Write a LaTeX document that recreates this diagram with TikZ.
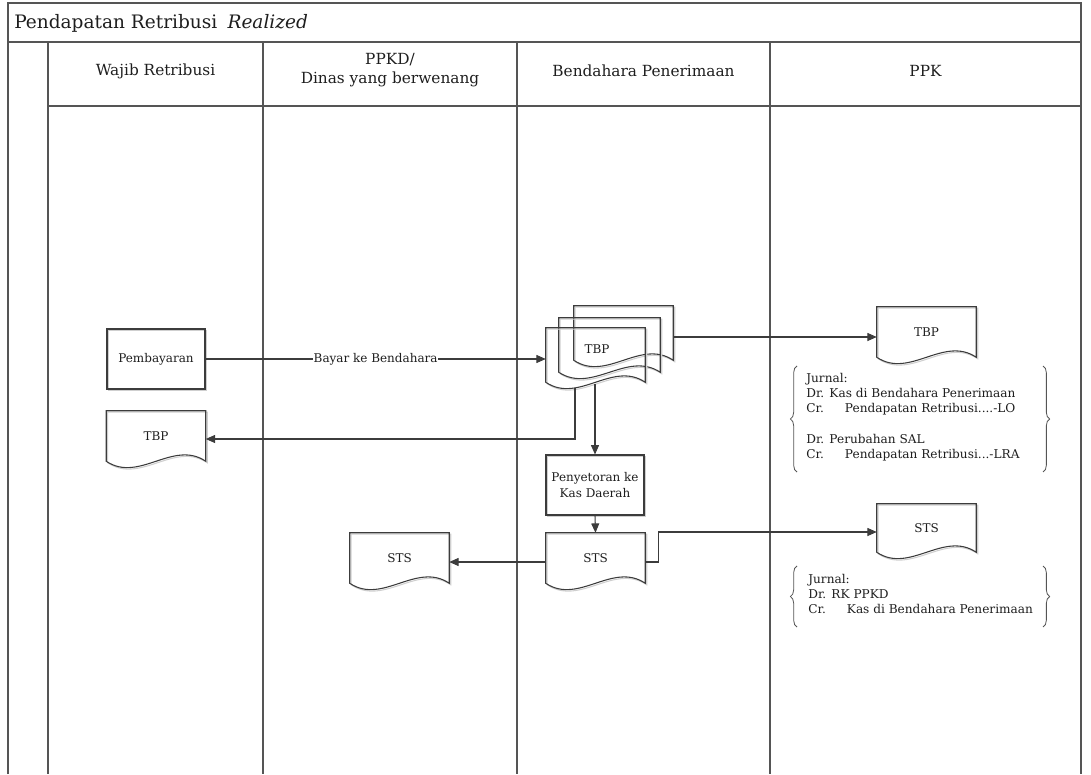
\documentclass[tikz,border=0pt]{standalone}
\usepackage{fontspec}
\setmainfont{DejaVu Serif}
\usetikzlibrary{arrows.meta,calc,decorations.pathreplacing}
\definecolor{ln}{HTML}{3C3C3C}
\definecolor{fr}{HTML}{555555}
\definecolor{sh}{HTML}{CFCFCF}
\definecolor{tx}{HTML}{1E1E1E}
\newcommand\docshape[1]{%
  \draw[docline] (#1.north west) -- (#1.north east) -- (#1.south east)
    .. controls ($(#1.south east)!0.33!(#1.south west)+(0,-22)$) and ($(#1.south east)!0.67!(#1.south west)+(0,22)$) .. (#1.south west) -- cycle;}
\tikzset{
  shd/.style={preaction={draw=sh,line width=0.8pt,transform canvas={xshift=1.1pt,yshift=-1.1pt}}},
  docline/.style={draw=ln,line width=0.8pt,shd},
  procbox/.style={draw=ln,line width=0.8pt,shd,rectangle,minimum width=73.5pt,minimum height=45pt,inner sep=1pt,align=center,font=\fontsize{9pt}{11.5pt}\selectfont,text=tx},
  docnode/.style={rectangle,draw=none,minimum width=74.25pt,minimum height=37.5pt,inner sep=0pt,font=\fontsize{9pt}{11pt}\selectfont,text=tx},
  arr/.style={draw=ln,line width=0.8pt,-{Triangle[length=7pt,width=6pt]}},
  frame/.style={draw=fr,line width=1.5pt},
  lane/.style={draw=fr,line width=1.1pt},
  hdr/.style={font=\fontsize{11.5pt}{14pt}\selectfont,text=tx,align=center,inner sep=0pt},
  jtext/.style={anchor=north west,align=left,inner sep=0pt,font=\fontsize{9.1pt}{11.4pt}\selectfont,text=tx},
  brc/.style={draw=fr,line width=0.6pt,decorate,decoration={brace,amplitude=5pt,aspect=0.5}}
}
\begin{document}
\begin{tikzpicture}[x=0.75pt,y=-0.75pt]
\useasboundingbox (0,0) rectangle (1091,774);
% frame and lanes
\draw[frame] (8,774) -- (8,3) -- (1081,3) -- (1081,774);
\draw[frame] (8,42) -- (1081,42);
\draw[lane] (48,106) -- (1081,106);
\draw[lane] (48,42) -- (48,774);
\draw[lane] (263,42) -- (263,774);
\draw[lane] (517,42) -- (517,774);
\draw[lane] (770,42) -- (770,774);
% title and headers
\node[anchor=west,inner sep=0pt,text=tx,font=\fontsize{13.9pt}{16pt}\selectfont] (title) at (14,23) {Pendapatan Retribusi\hspace{0.55em}\textit{Realized}};
\node[hdr] (h1) at (155.5,71) {Wajib Retribusi};
\node[hdr] (h2) at (390,70) {PPKD/\\Dinas yang berwenang};
\node[hdr] (h3) at (643.5,71) {Bendahara Penerimaan};
\node[hdr] (h4) at (925.5,71) {PPK};
% process boxes
\node[procbox] (pemb) at (156,359) {Pembayaran};
\node[procbox] (peny) at (595,485) {Penyetoran ke\\Kas Daerah};
% documents
\node[docnode] (tbpL) at (156,436) {TBP};
\docshape{tbpL}
\node[docnode,minimum height=40.5pt] (back) at (623.5,333) {};
\node[docnode,minimum height=40.5pt,minimum width=75.75pt] (mid) at (609.5,345) {};
\node[docnode,minimum height=40.5pt] (front) at (595.5,355) {};
\docshape{back}
\docshape{mid}
\docshape{front}
\node[docnode,minimum height=0pt,minimum width=0pt] (tbpM) at (597,349) {TBP};
\node[docnode] (stsM) at (595.5,558) {STS};
\docshape{stsM}
\node[docnode] (stsL) at (399.5,558) {STS};
\docshape{stsL}
\node[docnode] (tbpR) at (926.5,332) {TBP};
\docshape{tbpR}
\node[docnode,minimum height=36pt] (stsR) at (926.5,528) {STS};
\docshape{stsR}
% connectors
\draw[arr] (pemb.east) -- node[fill=white,inner sep=0.5pt,font=\fontsize{9pt}{11pt}\selectfont,text=tx] (lblbayar) {Bayar ke Bendahara} (pemb.east -| front.west);
\coordinate (retstart) at (575,388);
\draw[arr] (retstart) |- ([yshift=-2.25pt]tbpL.east);
\coordinate (dwnstart) at (595,384);
\draw[arr] (dwnstart) -- (peny.north);
\draw[arr] (peny.south) -- (stsM.north);
\coordinate (bexit) at ([yshift=-3pt]back.east);
\draw[arr] (bexit) -- (bexit -| tbpR.west);
\draw[arr] ([yshift=-3pt]stsM.west) -- ([yshift=-3pt]stsL.east);
\coordinate (sexit) at ([yshift=-3pt]stsM.east);
\draw[arr] (sexit) -- ++(13,0) |- ([yshift=-3pt]stsR.west);
% journals
\node[jtext] (j1) at (806,373) {Jurnal:\\Dr. Kas di Bendahara Penerimaan\\\makebox[29pt][l]{Cr.}Pendapatan Retribusi....-LO\\[11.4pt]Dr. Perubahan SAL\\\makebox[29pt][l]{Cr.}Pendapatan Retribusi...-LRA};
\draw[brc] (797,472) -- (797,366);
\draw[brc] (1043,366) -- (1043,472);
\node[jtext] (j2) at (808,574) {Jurnal:\\Dr. RK PPKD\\\makebox[29pt][l]{Cr.}Kas di Bendahara Penerimaan};
\draw[brc] (797,627) -- (797,566);
\draw[brc] (1043,566) -- (1043,627);
\end{tikzpicture}
\end{document}
